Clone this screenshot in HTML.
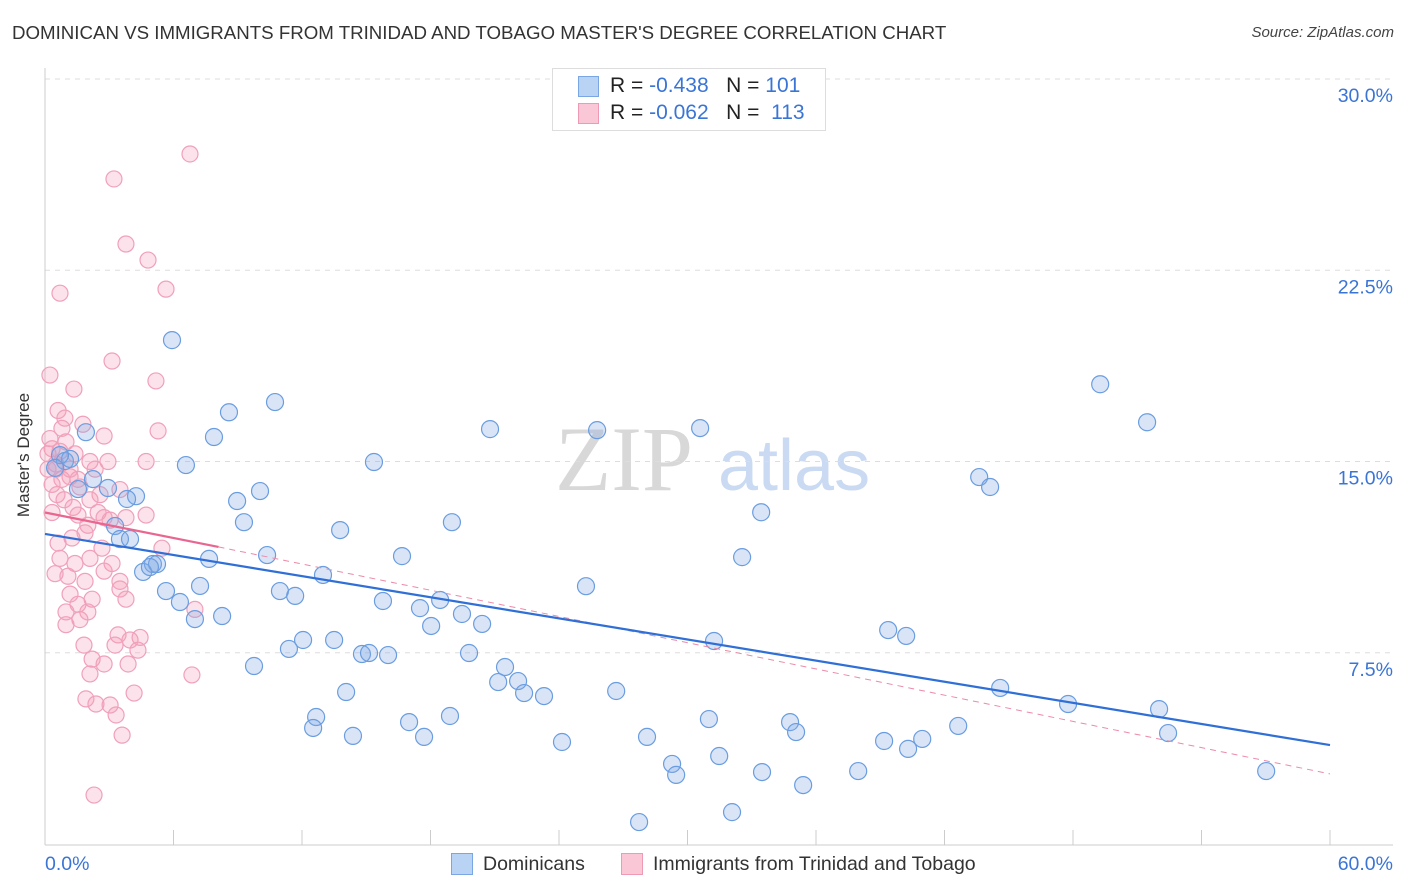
<!DOCTYPE html>
<html><head><meta charset="utf-8">
<style>
body{margin:0;background:#fff;font-family:"Liberation Sans",sans-serif;}
#wrap{position:relative;width:1406px;height:892px;overflow:hidden;}
.t{position:absolute;white-space:nowrap;}
</style></head>
<body>
<div id="wrap">
<div class="t" style="left:12px;top:22px;font-size:18.7px;color:#333;">DOMINICAN VS IMMIGRANTS FROM TRINIDAD AND TOBAGO MASTER'S DEGREE CORRELATION CHART</div>
<div class="t" style="right:12px;top:24px;font-size:15px;color:#444;font-style:italic;">Source: ZipAtlas.com</div>
<svg id="plot" width="1406" height="892" style="position:absolute;left:0;top:0"></svg>
<div class="t" style="left:-38px;top:445px;font-size:17px;color:#333;transform:rotate(-90deg);transform-origin:center;">Master's Degree</div>
<div style="position:absolute;left:552px;top:68px;width:272px;height:61px;border:1px solid #ddd;background:#fff;">
 <div style="position:absolute;left:25px;top:7px;width:19px;height:19px;background:#b9d3f5;border:1px solid #7aa7e3;"></div>
 <div class="t" style="left:57px;top:5px;font-size:21px;color:#222;">R = <span style="color:#3a75d6">-0.438</span>&nbsp;&nbsp;&nbsp;N = <span style="color:#3a75d6">101</span></div>
 <div style="position:absolute;left:25px;top:34px;width:19px;height:19px;background:#f9c7d6;border:1px solid #ef9ab5;"></div>
 <div class="t" style="left:57px;top:32px;font-size:21px;color:#222;">R = <span style="color:#3a75d6">-0.062</span>&nbsp;&nbsp;&nbsp;N = <span style="color:#3a75d6">&nbsp;113</span></div>
</div>
<div style="position:absolute;left:451px;top:853px;width:20px;height:20px;background:#b9d3f5;border:1px solid #7aa7e3;"></div>
<div class="t" style="left:483px;top:853px;font-size:19.5px;color:#333;">Dominicans</div>
<div style="position:absolute;left:621px;top:853px;width:20px;height:20px;background:#f9c7d6;border:1px solid #ef9ab5;"></div>
<div class="t" style="left:653px;top:853px;font-size:19.5px;color:#333;">Immigrants from Trinidad and Tobago</div>
</div>
<script>
const yTicks=[7.5,15,22.5,30];
const yTickLabels=["7.5%","15.0%","22.5%","30.0%"];
const xTickLabels=["0.0%","60.0%"];
const blueX=[5.93,8.59,10.74,7.89,6.58,8.97,10.04,9.29,4.25,2.94,3.83,1.91,0.93,1.17,1.54,2.24,3.27,3.5,3.97,5.04,5.23,4.58,5.65,6.3,7.0,8.27,7.24,7.66,10.37,10.97,11.68,12.98,13.78,15.36,16.67,15.78,17.51,18.45,19.0,18.03,19.47,20.41,20.78,25.78,30.59,25.26,32.55,33.44,49.27,51.46,43.62,44.13,9.76,11.39,12.05,13.5,14.8,15.13,16.02,14.06,12.66,12.52,14.38,17.0,17.7,18.91,19.8,21.16,21.48,22.09,22.37,23.3,26.67,24.14,28.11,29.28,29.47,31.0,31.48,32.08,27.74,31.24,33.48,34.79,35.07,35.4,37.97,39.18,39.37,40.21,40.3,40.96,42.64,44.6,47.77,52.02,52.44,57.02,4.9,0.7,0.47];
const blueY=[19.76,16.93,17.33,15.96,14.86,13.45,13.84,12.62,13.64,13.96,13.53,16.15,15.02,15.1,13.92,14.31,12.47,11.96,11.96,10.98,10.98,10.67,9.92,9.49,8.82,8.94,10.12,11.18,11.33,9.92,9.73,10.55,12.31,14.98,11.29,9.53,9.25,9.57,12.62,8.55,9.02,8.63,16.27,16.23,16.31,10.11,11.25,13.01,18.03,16.54,14.39,14.0,6.98,7.65,8.0,8.0,7.45,7.49,7.41,5.96,4.98,4.55,4.24,4.78,4.2,5.02,7.49,6.35,6.94,6.39,5.92,5.8,6.0,4.0,4.2,3.14,2.71,4.9,3.45,1.25,0.86,7.96,2.82,4.78,4.39,2.31,2.86,4.04,8.39,8.16,3.73,4.12,4.63,6.12,5.49,5.29,4.35,2.86,10.86,15.25,14.75];
const pinkX=[6.77,3.22,3.78,4.81,5.65,0.7,3.13,0.23,5.18,1.35,0.61,0.93,1.77,5.28,2.76,0.23,0.98,0.33,0.7,1.4,2.1,0.51,0.14,2.94,4.72,2.34,0.79,1.17,0.33,1.63,2.57,0.56,2.1,3.5,1.31,0.33,1.54,2.48,3.04,3.78,4.72,2.0,2.76,1.26,1.87,0.61,2.66,5.46,0.7,1.4,2.1,3.13,0.47,1.07,1.87,2.76,3.5,1.17,2.2,1.54,3.78,2.0,3.5,0.98,7.0,1.63,0.98,1.82,3.41,3.97,4.44,3.27,4.34,2.2,2.76,2.1,3.88,1.91,2.38,4.16,6.86,3.04,3.32,3.6,2.29,0.14,0.51,0.79,1.17,1.54,0.89];
const pinkY=[27.06,26.08,23.53,22.9,21.76,21.6,18.94,18.39,18.16,17.84,17.0,16.7,16.46,16.2,16.0,15.9,15.77,15.5,15.4,15.3,15.0,14.9,14.7,15.0,15.0,14.7,14.3,14.4,14.1,14.0,13.7,13.7,13.5,13.9,13.2,13.0,12.9,13.0,12.7,12.8,12.9,12.5,12.8,12.0,12.2,11.8,11.6,11.6,11.2,11.0,11.2,11.0,10.6,10.5,10.3,10.7,10.3,9.8,9.6,9.4,9.6,9.1,10.0,9.1,9.2,8.8,8.6,7.8,8.2,8.0,8.1,7.8,7.6,7.25,7.06,6.67,7.06,5.69,5.49,5.92,6.63,5.45,5.06,4.27,1.92,15.3,14.7,16.3,14.7,14.3,13.5];
const blueTrend=[12.16,3.88];
const pinkTrend=[13.0,11.65,2.75];
const pinkSolidEnd=8.1;

const X0=45,X1=1330,Y0=844,PXY=25.5;
const sx=v=>X0+(X1-X0)*v/60;
const sy=v=>Y0-v*PXY;
const svg=document.getElementById('plot');
const NS='http://www.w3.org/2000/svg';
function mk(tag,attrs){const e=document.createElementNS(NS,tag);for(const k in attrs)e.setAttribute(k,attrs[k]);svg.appendChild(e);return e;}

let w=mk('text',{x:555,y:490,'font-size':92,'font-family':'Liberation Serif',fill:'#d8d8d8'});w.textContent='ZIP';


let w2=mk('text',{x:718,y:490,'font-size':72,'font-family':'Liberation Sans',fill:'#c9daf2'});w2.textContent='atlas';



yTicks.forEach((v,i)=>{
 const g=mk('line',{x1:X0,x2:1393,y1:sy(v),y2:sy(v),stroke:'#ddd','stroke-dasharray':'5,5'});
 
 
 const t=mk('text',{x:1393,y:sy(v)+23,'text-anchor':'end','font-size':19.5,fill:'#3a75d6','font-family':'Liberation Sans'});
 t.textContent=yTickLabels[i];
 
 
});
let ax=mk('line',{x1:X0,x2:1393,y1:Y0+1,y2:Y0+1,stroke:'#ccc'});


let ay=mk('line',{x1:X0,x2:X0,y1:68,y2:Y0+1,stroke:'#ccc'});


for(let i=0;i<=10;i++){
 const tk=mk('line',{x1:sx(i*6),x2:sx(i*6),y1:Y0+1,y2:Y0-14,stroke:'#ccc'});
 
 
}
[[0,'start',45],[60,'end',1393]].forEach((a,i)=>{
 const t=mk('text',{x:a[2],y:870,'text-anchor':a[1],'font-size':19.5,fill:'#3a75d6','font-family':'Liberation Sans'});
 t.textContent=xTickLabels[i];
 
 
});

pinkX.forEach((x,i)=>{
 const c=mk('circle',{cx:sx(x),cy:sy(pinkY[i]),r:8,fill:'rgba(244,160,186,0.3)',stroke:'#f0a0ba','stroke-width':1.2});
 
 
});
blueX.forEach((x,i)=>{
 const c=mk('circle',{cx:sx(x),cy:sy(blueY[i]),r:8.5,fill:'rgba(130,170,230,0.3)',stroke:'#6a9de0','stroke-width':1.2});
 
 
});
let pd=mk('line',{x1:sx(pinkSolidEnd),y1:sy(pinkTrend[1]),x2:sx(60),y2:sy(pinkTrend[2]),stroke:'#ec8aa8','stroke-width':1,'stroke-dasharray':'6,5'});


let bl=mk('line',{x1:sx(0),y1:sy(blueTrend[0]),x2:sx(60),y2:sy(blueTrend[1]),stroke:'#2f6fd6','stroke-width':2.2});


let pl=mk('line',{x1:sx(0),y1:sy(pinkTrend[0]),x2:sx(pinkSolidEnd),y2:sy(pinkTrend[1]),stroke:'#e8668f','stroke-width':2.2});


</script>
</body></html>
